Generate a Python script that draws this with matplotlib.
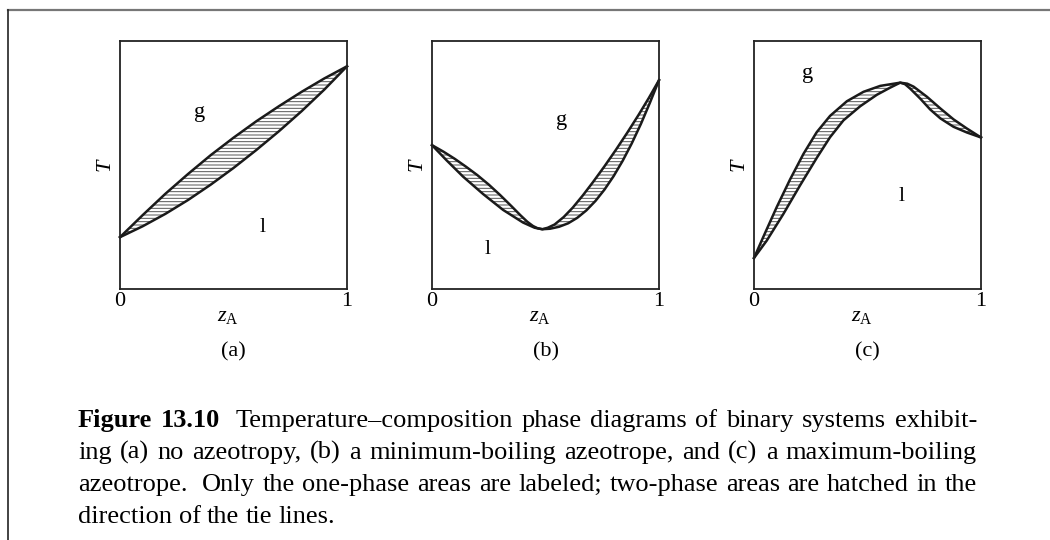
import numpy as np
import matplotlib
matplotlib.use("Agg")
import matplotlib.pyplot as plt
from matplotlib.lines import Line2D

plt.rcParams["font.family"] = ["Liberation Serif", "DejaVu Serif"]
plt.rcParams["mathtext.fontset"] = "custom"
plt.rcParams["mathtext.rm"] = "Liberation Serif"
plt.rcParams["mathtext.it"] = "Liberation Serif:italic"
plt.rcParams["hatch.linewidth"] = 0.7

# (a) no azeotrope: vapor (upper) and liquid (lower) curves, T scaled 0..1
a_vap_z = [0, 0.1, 0.2, 0.3, 0.4, 0.5, 0.6, 0.7, 0.8, 0.9, 1]
a_vap_T = [0.209, 0.298, 0.384, 0.464, 0.540, 0.610, 0.676, 0.737, 0.795, 0.849, 0.898]
a_liq_z = [0, 0.1, 0.2, 0.3, 0.4, 0.5, 0.6, 0.7, 0.8, 0.9, 1]
a_liq_T = [0.209, 0.253, 0.303, 0.359, 0.421, 0.488, 0.560, 0.636, 0.717, 0.804, 0.898]

# (b) minimum-boiling azeotrope
b_vap_z = [0, 0.05, 0.10, 0.15, 0.20, 0.25, 0.30, 0.35, 0.39, 0.42, 0.445, 0.465, 0.486,
           0.51, 0.54, 0.58, 0.62, 0.665, 0.71, 0.76, 0.81, 0.86, 0.91, 0.955, 1]
b_vap_T = [0.580, 0.554, 0.525, 0.493, 0.459, 0.421, 0.379, 0.334, 0.297, 0.271, 0.254, 0.245, 0.241,
           0.247, 0.260, 0.290, 0.328, 0.378, 0.432, 0.495, 0.561, 0.630, 0.702, 0.770, 0.842]
b_liq_z = [0, 0.063, 0.137, 0.225, 0.313, 0.401, 0.452, 0.486,
           0.52, 0.56, 0.60, 0.64, 0.68, 0.72, 0.76, 0.80, 0.84, 0.88, 0.92, 0.96, 1]
b_liq_T = [0.580, 0.520, 0.453, 0.383, 0.319, 0.268, 0.247, 0.241,
           0.243, 0.251, 0.265, 0.287, 0.317, 0.355, 0.401, 0.455, 0.517, 0.587, 0.665, 0.751, 0.842]

# (c) maximum-boiling azeotrope
c_vap_z = [0, 0.041, 0.100, 0.159, 0.218, 0.276, 0.335, 0.409, 0.482, 0.556, 0.644,
           0.675, 0.703, 0.762, 0.821, 0.879, 0.938, 1]
c_vap_T = [0.125, 0.210, 0.330, 0.442, 0.545, 0.632, 0.698, 0.757, 0.795, 0.819, 0.832,
           0.828, 0.816, 0.775, 0.728, 0.684, 0.647, 0.611]
c_liq_z = [0, 0.056, 0.129, 0.203, 0.276, 0.335, 0.394, 0.468, 0.541, 0.600, 0.644,
           0.665, 0.688, 0.732, 0.776, 0.821, 0.879, 0.938, 1]
c_liq_T = [0.125, 0.195, 0.302, 0.418, 0.528, 0.612, 0.680, 0.737, 0.783, 0.812, 0.832,
           0.826, 0.808, 0.768, 0.724, 0.688, 0.654, 0.631, 0.611]

panel_names = ["(a)", "(b)", "(c)"]
g_pos = [(0.35, 0.71), (0.57, 0.68), (0.235, 0.869)]
l_pos = [(0.63, 0.25), (0.247, 0.158), (0.651, 0.373)]

caption_lines = [
    "Temperature\u2013composition phase diagrams of binary systems exhibit-",
    "ing (a) no azeotropy, (b) a minimum-boiling azeotrope, and (c) a maximum-boiling",
    "azeotrope.  Only the one-phase areas are labeled; two-phase areas are hatched in the",
    "direction of the tie lines.",
]

W, H = 1050, 540
fig = plt.figure(figsize=(W / 100, H / 100), dpi=100)

# page frame lines
fig.add_artist(Line2D([8 / W, 1], [1 - 10 / H, 1 - 10 / H], color="#777777", lw=1.6))
fig.add_artist(Line2D([8 / W, 8 / W], [0, 1 - 10 / H], color="#222222", lw=1.2))

curves = [
    (a_vap_z, a_vap_T, a_liq_z, a_liq_T),
    (b_vap_z, b_vap_T, b_liq_z, b_liq_T),
    (c_vap_z, c_vap_T, c_liq_z, c_liq_T),
]
lefts = [120, 432, 754]
fs = 16

for i, (vz, vT, lz, lT) in enumerate(curves):
    ax = fig.add_axes([lefts[i] / W, 1 - 289 / H, 227 / W, 248 / H])
    poly_z = list(vz) + list(lz)[::-1]
    poly_T = list(vT) + list(lT)[::-1]
    ax.fill(poly_z, poly_T, facecolor="none", edgecolor="#555555", hatch="-----", lw=0)
    ax.plot(vz, vT, color="#1a1a1a", lw=1.8, clip_on=False, solid_joinstyle="round")
    ax.plot(lz, lT, color="#1a1a1a", lw=1.8, clip_on=False, solid_joinstyle="round")
    ax.set_xlim(0, 1)
    ax.set_ylim(0, 1)
    ax.set_xticks([0, 1])
    ax.set_xticklabels(["0", "1"], fontsize=fs)
    ax.set_yticks([])
    ax.tick_params(length=0, pad=2)
    for s in ax.spines.values():
        s.set_linewidth(1.3)
        s.set_color("#222222")
    ax.text(-0.065, 0.5, "T", style="italic", rotation=90, fontsize=fs,
            transform=ax.transAxes, ha="center", va="center")
    ax.text(0.476, -0.109, r"$z_\mathrm{A}$", fontsize=fs,
            transform=ax.transAxes, ha="center", va="center")
    ax.text(0.5, -0.254, panel_names[i], fontsize=fs,
            transform=ax.transAxes, ha="center", va="center")
    ax.text(g_pos[i][0], g_pos[i][1], "g", fontsize=fs, ha="center", va="center")
    ax.text(l_pos[i][0], l_pos[i][1], "l", fontsize=fs, ha="center", va="center")

# caption, justified like a book page
cap_fs = 19
x0, x1 = 78, 977
baselines = [427, 459, 491, 523]
renderer = fig.canvas.get_renderer()


def place_line(words, y, justify, lead=None):
    texts, widths = [], []
    for w, bold in words:
        t = fig.text(0, 1 - y / H, w, fontsize=cap_fs, fontweight="bold" if bold else "normal",
                     ha="left", va="baseline")
        texts.append(t)
        widths.append(t.get_window_extent(renderer).width)
    extra = [0] * len(words)
    if lead is not None:
        extra[lead] = 7
    if justify:
        gap = (x1 - x0 - sum(widths) - sum(extra)) / (len(words) - 1)
    else:
        gap = 6.5
    x = x0
    for t, wd, ex in zip(texts, widths, extra):
        t.set_x(x / W)
        x += wd + gap + ex


for k, line in enumerate(caption_lines):
    words = [(w, False) for w in line.split()]
    lead = None
    if k == 0:
        words = [("Figure", True), ("13.10", True)] + words
        lead = 1
    if k == 2:
        lead = 0
    place_line(words, baselines[k], k < 3, lead)

fig.savefig("out.png", dpi=100)
